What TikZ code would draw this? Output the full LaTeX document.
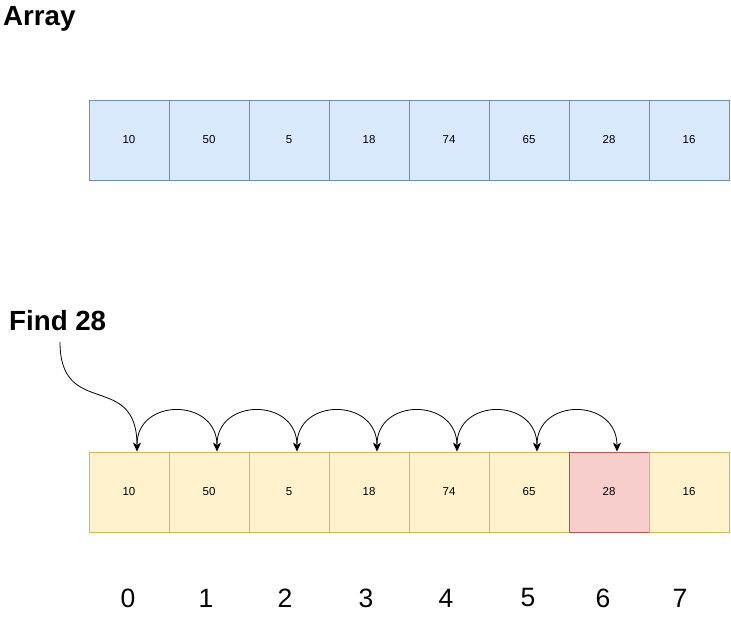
\documentclass[tikz,border=0pt]{standalone}
\usepackage{fontspec}
\setmainfont{Liberation Sans}
\usetikzlibrary{arrows.meta}
\definecolor{bluefill}{HTML}{DAE8FC}
\definecolor{bluedraw}{HTML}{6C8EBF}
\definecolor{yelfill}{HTML}{FFF2CC}
\definecolor{yeldraw}{HTML}{D6B656}
\definecolor{redfill}{HTML}{F8CECC}
\definecolor{reddraw}{HTML}{B85450}
\tikzset{
  cell/.style={minimum width=80pt,minimum height=80pt,inner sep=0pt,line width=0.8pt,
    font=\fontsize{11.5}{13}\selectfont},
  bluecell/.style={cell,fill=bluefill,draw=bluedraw},
  yelcell/.style={cell,fill=yelfill,draw=yeldraw},
  redcell/.style={cell,fill=redfill,draw=reddraw},
  title/.style={font=\fontsize{27.7}{32}\selectfont\bfseries,inner sep=0pt,anchor=west},
  idx/.style={font=\fontsize{26.5}{30}\selectfont,inner sep=0pt},
  hop/.style={line width=0.8pt,-{Stealth[length=9pt,width=8pt,inset=2.5pt]}}
}
\begin{document}
\begin{tikzpicture}[x=1pt,y=-1pt]
\useasboundingbox (0,0) rectangle (731,620);
\node[title] (arraytitle) at (3,19) {Array};
\node[title] (findtitle) at (9,321) {Find 28};
\foreach \v [count=\i from 0] in {10,50,5,18,74,65,28,16}{
  \node[bluecell] (a\i) at ({129+80*\i},140) {\v};
}
\foreach \v [count=\i from 0] in {10,50,5,18,74,65}{
  \node[yelcell] (b\i) at ({129+80*\i},492) {\v};
}
\node[redcell] (b6) at (609,492) {28};
\node[yelcell] (b7) at (689,492) {16};
\foreach \n/\x in {0/128,1/206,2/285,3/366,4/446,5/528,6/603,7/680}{
  \node[idx] (i\n) at (\x,598) {\n};
}
% arrow targets
\foreach \i in {0,...,6}{
  \coordinate (t\i) at ([xshift=8pt]b\i.north);
  \coordinate (s\i) at ([xshift=8pt,yshift=7pt]b\i.north);
}
\coordinate (f0) at (60,342);
\draw[hop] (f0) .. controls (60,420) and (137,370) .. (t0);
\foreach \i [evaluate=\i as \j using int(\i+1)] in {0,...,5}{
  \draw[hop] (s\i) .. controls ([yshift=47pt]s\i) and ([yshift=54pt]t\j) .. (t\j);
}
\end{tikzpicture}
\end{document}
